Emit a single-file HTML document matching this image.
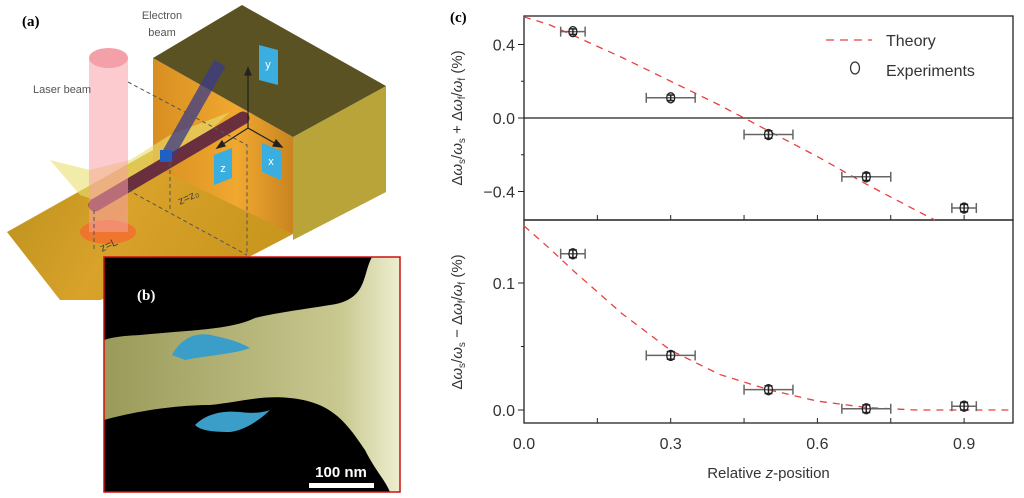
<!DOCTYPE html>
<html><head><meta charset="utf-8">
<style>
html,body{margin:0;padding:0;background:#fff;}
svg{display:block;font-family:"Liberation Sans",sans-serif;}
</style></head>
<body>
<svg id="fig" width="1024" height="498" viewBox="0 0 1024 498" xmlns="http://www.w3.org/2000/svg">
<defs>
<linearGradient id="floorG" x1="0" y1="0" x2="1" y2="0.3"><stop offset="0" stop-color="#b8901c"/><stop offset="0.5" stop-color="#d9a22a"/><stop offset="1" stop-color="#c9961e"/></linearGradient>
<linearGradient id="frontG" x1="0" y1="0" x2="1" y2="0"><stop offset="0" stop-color="#d88f20"/><stop offset="0.6" stop-color="#f0a830"/><stop offset="1" stop-color="#c98420"/></linearGradient>
<linearGradient id="semG" x1="0" y1="0" x2="1" y2="0"><stop offset="0" stop-color="#9a9a5a"/><stop offset="0.8" stop-color="#c8c890"/><stop offset="1" stop-color="#eeeed0"/></linearGradient>
</defs>

<g>
  <polygon points="7,232 153,150 293,234 247,258 100,300 60,300" fill="url(#floorG)"/>
  <polygon points="153,58 293,137 293,234 153,166" fill="url(#frontG)"/>
  <polygon points="293,137 386,86 386,192 293,240" fill="#b9a43a"/>
  <polygon points="153,58 242,5 386,86 293,137" fill="#5a5223"/>
  <polygon points="50,160 90,170 130,160 170,135 230,112 200,140 140,175 95,200 80,195" fill="#e8e070" opacity="0.6"/>
  <line x1="95" y1="205" x2="243" y2="118" stroke="#6a2f3f" stroke-width="13" stroke-linecap="round"/>
  <line x1="220" y1="63" x2="166" y2="158" stroke="#3a3a8a" stroke-width="13" opacity="0.75"/>
  <rect x="160" y="150" width="12" height="12" fill="#2060c0"/>
  <ellipse cx="108" cy="232" rx="28" ry="12" fill="#ff5a30" opacity="0.6"/>
  <rect x="89" y="58" width="39" height="174" fill="#f7a0a8" opacity="0.55"/>
  <ellipse cx="108.5" cy="58" rx="19.5" ry="10" fill="#f4a0a8"/>
  <g stroke="#555" stroke-width="1" stroke-dasharray="4,3" fill="none">
    <polyline points="128,82 247,145 247,255"/>
    <polyline points="128,190 247,255"/>
    <line x1="94" y1="210" x2="94" y2="252"/>
    <line x1="170" y1="163" x2="170" y2="212"/>
  </g>
  <g stroke="#222" stroke-width="1.2" fill="#222">
    <line x1="248" y1="128" x2="248" y2="72"/><polygon points="248,68 245,75 251,75"/>
    <line x1="248" y1="128" x2="220" y2="146"/><polygon points="217,148 225,146 222,141"/>
    <line x1="248" y1="128" x2="278" y2="145"/><polygon points="282,147 273,146 276,140"/>
  </g>
  <g fill="#3aaedf">
    <polygon points="259,45 278,50 278,85 259,80"/>
    <polygon points="214,155 232,148 232,178 214,185"/>
    <polygon points="262,143 281,151 281,180 262,172"/>
  </g>
  <g font-size="11" fill="#fff" text-anchor="middle">
    <text x="268" y="68">y</text>
    <text x="223" y="172">z</text>
    <text x="271" y="165">x</text>
  </g>
  <text x="33" y="93" font-size="11" fill="#555">Laser beam</text>
  <text x="162" y="19" font-size="11" fill="#555" text-anchor="middle">Electron</text>
  <text x="162" y="36" font-size="11" fill="#555" text-anchor="middle">beam</text>
  <text x="180" y="205" font-size="11" fill="#444" transform="rotate(-25 180 205)">z=z₀</text>
  <text x="102" y="252" font-size="11" fill="#444" transform="rotate(-25 102 252)">z=L</text>
  <text x="22" y="26" font-size="15" font-weight="bold" font-family="Liberation Serif,serif">(a)</text>
</g>

<g>
  <rect x="104" y="257" width="296" height="235" fill="url(#semG)"/>
  <path d="M104,257 H372 C362,275 368,300 330,305 C300,310 280,312 255,318 C230,330 190,330 140,335 C120,336 110,338 104,340 Z" fill="#000"/>
  <path d="M104,420 C140,410 180,405 210,405 C240,402 260,395 290,398 C330,402 345,420 365,450 C375,470 385,480 390,492 H104 Z" fill="#000"/>
  <path d="M172,355 C180,340 195,330 215,336 C235,340 245,345 250,348 C235,354 210,355 185,360 Z" fill="#3a9ec8"/>
  <path d="M195,425 C205,415 220,410 240,412 C255,414 265,412 270,410 C260,420 245,430 230,432 C210,432 200,430 195,425 Z" fill="#3a9ec8"/>
  <rect x="104" y="257" width="296" height="235" fill="none" stroke="#cc1010" stroke-width="1.5"/>
  <text x="137" y="300" font-size="15" font-weight="bold" fill="#fff" font-family="Liberation Serif,serif">(b)</text>
  <text x="341" y="477" font-size="15" font-weight="bold" fill="#fff" text-anchor="middle">100 nm</text>
  <rect x="309" y="483" width="65" height="5" fill="#fff"/>
</g>

<text x="450" y="22" font-size="15" font-weight="bold" font-family="Liberation Serif,serif">(c)</text>
<g id="chart"></g>
</svg>
<script>
var zCats = [0.1, 0.3, 0.5, 0.7, 0.9];
var zErr = [0.025, 0.05, 0.05, 0.05, 0.025];
var topVals = [0.47, 0.11, -0.09, -0.32, -0.49];
var topErr = [0.015, 0.015, 0.02, 0.02, 0.02];
var botVals = [0.123, 0.043, 0.016, 0.001, 0.003];
var botErr = [0.003, 0.003, 0.003, 0.003, 0.003];
var theoryZ = [0.0, 0.05, 0.1, 0.2, 0.3, 0.4, 0.5, 0.6, 0.7, 0.8, 0.84];
var theoryTop = [0.55, 0.51, 0.45, 0.33, 0.20, 0.07, -0.07, -0.21, -0.36, -0.50, -0.555];
var theoryBotZ = [0.0, 0.05, 0.1, 0.2, 0.3, 0.4, 0.5, 0.6, 0.7, 0.8, 0.9, 1.0];
var theoryBot = [0.145, 0.128, 0.11, 0.076, 0.047, 0.028, 0.016, 0.007, 0.002, 0.0, 0.0, 0.0];
var xTicks = [0.0, 0.3, 0.6, 0.9];
var topTicks = [0.4, 0.0, -0.4];
var botTicks = [0.1, 0.0];

var NS = 'http://www.w3.org/2000/svg';
var g = document.getElementById('chart');
var L = 524, R = 1013, T = 16, MID = 220, B = 423;
function xs(v){ return L + v * (R - L); }
function yTop(v){ return 118 - v * 183.75; }
function yBot(v){ return 410 - v * 1270; }
function mk(tag, attrs, parent){
  var e = document.createElementNS(NS, tag);
  for (var k in attrs) e.setAttribute(k, attrs[k]);
  (parent || g).appendChild(e);
  return e;
}
var f1 = mk('rect', {x:L, y:T, width:R-L, height:MID-T, fill:'none', stroke:'#222', 'stroke-width':1.3});


var f2 = mk('rect', {x:L, y:MID, width:R-L, height:B-MID, fill:'none', stroke:'#222', 'stroke-width':1.3});


var zl = mk('line', {x1:L, x2:R, y1:yTop(0), y2:yTop(0), stroke:'#222', 'stroke-width':1.2});


for (var i = 0; i <= 6; i++) {
  var v = i * 0.15;
  var tl = mk('line', {x1:xs(v), x2:xs(v), y1:B, y2:B-5, stroke:'#222', 'stroke-width':1});
  
  
  var tm = mk('line', {x1:xs(v), x2:xs(v), y1:MID, y2:MID-5, stroke:'#222', 'stroke-width':1});
  
  
}
xTicks.forEach(function(v){
  var t = mk('text', {x:xs(v), y:449, 'font-size':16, fill:'#333', 'text-anchor':'middle'});
  t.textContent = v.toFixed(1);
  
  
});
var xt = mk('text', {x:xs(0.5), y:478, 'font-size':15, fill:'#333', 'text-anchor':'middle'});
xt.innerHTML = 'Relative <tspan font-style="italic">z</tspan>-position';


[0.6,0.4,0.2,0,-0.2,-0.4].forEach(function(v){
  var yy = yTop(v); if (yy < T || yy > MID) return;
  var tk = mk('line', {x1:L, x2:L-(Math.abs(v*10)%4<0.01?6:3), y1:yy, y2:yy, stroke:'#222'});
  
  
});
topTicks.forEach(function(v){
  var t = mk('text', {x:L-9, y:yTop(v)+6, 'font-size':16, fill:'#333', 'text-anchor':'end'});
  t.textContent = v === 0 ? '0.0' : (v < 0 ? '\u2212' + Math.abs(v).toFixed(1) : v.toFixed(1));
  
  
});
[0, 0.05, 0.1, 0.15].forEach(function(v){
  var yy = yBot(v); if (yy < MID) return;
  var tk = mk('line', {x1:L, x2:L-(Math.round(v*100)%10===0?6:3), y1:yy, y2:yy, stroke:'#222'});
  
  
});
botTicks.forEach(function(v){
  var t = mk('text', {x:L-9, y:yBot(v)+6, 'font-size':16, fill:'#333', 'text-anchor':'end'});
  t.textContent = v.toFixed(1);
  
  
});
var yt1 = mk('text', {x:0, y:0, 'font-size':15, fill:'#333', 'text-anchor':'middle', transform:'translate(462,118) rotate(-90)'});
yt1.innerHTML = '\u0394<tspan font-style="italic">\u03c9</tspan><tspan font-size="10" dy="3">s</tspan><tspan dy="-3">/</tspan><tspan font-style="italic">\u03c9</tspan><tspan font-size="10" dy="3">s</tspan><tspan dy="-3"> + \u0394</tspan><tspan font-style="italic">\u03c9</tspan><tspan font-size="10" dy="3">f</tspan><tspan dy="-3">/</tspan><tspan font-style="italic">\u03c9</tspan><tspan font-size="10" dy="3">f</tspan><tspan dy="-3"> (%)</tspan>';


var yt2 = mk('text', {x:0, y:0, 'font-size':15, fill:'#333', 'text-anchor':'middle', transform:'translate(462,322) rotate(-90)'});
yt2.innerHTML = '\u0394<tspan font-style="italic">\u03c9</tspan><tspan font-size="10" dy="3">s</tspan><tspan dy="-3">/</tspan><tspan font-style="italic">\u03c9</tspan><tspan font-size="10" dy="3">s</tspan><tspan dy="-3"> \u2212 \u0394</tspan><tspan font-style="italic">\u03c9</tspan><tspan font-size="10" dy="3">f</tspan><tspan dy="-3">/</tspan><tspan font-style="italic">\u03c9</tspan><tspan font-size="10" dy="3">f</tspan><tspan dy="-3"> (%)</tspan>';


var p1 = theoryZ.map(function(z,i){ return xs(z)+','+yTop(theoryTop[i]); }).join(' ');
var th1 = mk('polyline', {points:p1, fill:'none', stroke:'#e84040', 'stroke-width':1.3, 'stroke-dasharray':'7,6'});


var p2 = theoryBotZ.map(function(z,i){ return xs(z)+','+yBot(theoryBot[i]); }).join(' ');
var th2 = mk('polyline', {points:p2, fill:'none', stroke:'#e84040', 'stroke-width':1.3, 'stroke-dasharray':'7,6'});


function drawPts(vals, errs, yf, nm){
  zCats.forEach(function(z,i){
    var cx = xs(z), cy = yf(vals[i]), x0 = xs(z-zErr[i]), x1 = xs(z+zErr[i]);
    var eg = mk('g', {stroke:'#666', 'stroke-width':1.5, fill:'none'});
    
    
    mk('line', {x1:x0, x2:x1, y1:cy, y2:cy}, eg);
    mk('line', {x1:x0, x2:x0, y1:cy-5, y2:cy+5}, eg);
    mk('line', {x1:x1, x2:x1, y1:cy-5, y2:cy+5}, eg);
    var ey0 = yf(vals[i]+errs[i]), ey1 = yf(vals[i]-errs[i]);
    mk('line', {x1:cx, x2:cx, y1:ey0, y2:ey1, stroke:'#222'}, eg);
    mk('line', {x1:cx-4, x2:cx+4, y1:ey0, y2:ey0, stroke:'#222'}, eg);
    mk('line', {x1:cx-4, x2:cx+4, y1:ey1, y2:ey1, stroke:'#222'}, eg);
    var c = mk('ellipse', {cx:cx, cy:cy, rx:4, ry:5, fill:'none', stroke:'#222', 'stroke-width':1.3});
    
    
  });
}
drawPts(topVals, topErr, yTop, 'top-experiment');
drawPts(botVals, botErr, yBot, 'bottom-experiment');
var lg = mk('g', {});


var ll = mk('line', {x1:826, x2:872, y1:40, y2:40, stroke:'#e84040', 'stroke-width':1.3, 'stroke-dasharray':'8,6'}, lg);


var lt = mk('text', {x:886, y:46, 'font-size':16, fill:'#333'}, lg);
lt.textContent = 'Theory';


var lc = mk('ellipse', {cx:855, cy:68, rx:4.5, ry:6, fill:'none', stroke:'#333', 'stroke-width':1.3}, lg);


var le = mk('text', {x:886, y:76, 'font-size':16, fill:'#333'}, lg);
le.textContent = 'Experiments';


</script>
</body></html>
